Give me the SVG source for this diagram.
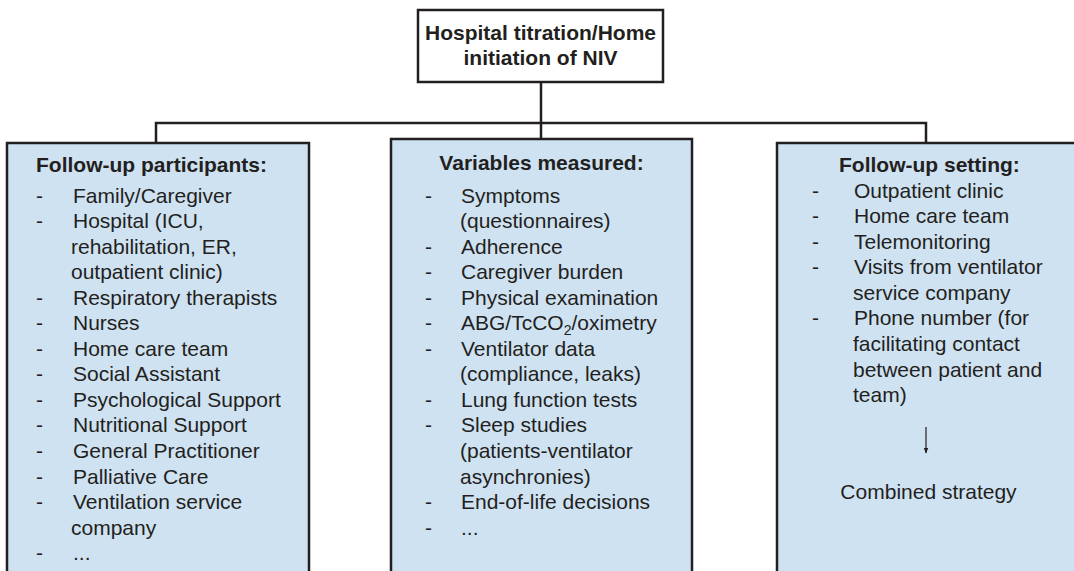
<svg xmlns="http://www.w3.org/2000/svg" width="1074" height="571" viewBox="0 0 1074 571">
<defs>
<style>
.box{fill:#cfe2f2;stroke:#231f20;stroke-width:2.5}
.top{fill:#ffffff;stroke:#231f20;stroke-width:2.5}
.conn{fill:none;stroke:#231f20;stroke-width:2.5}
text{font-family:"Liberation Sans",Arial,sans-serif;font-size:21px;fill:#231f20}
.b{font-weight:bold}
.thin{fill:none;stroke:#231f20;stroke-width:1.2}
</style>
<marker id="ah" viewBox="0 0 10 10" refX="9" refY="5" markerWidth="5" markerHeight="5" orient="auto">
<path d="M0,1 L10,5 L0,9 Z" fill="#231f20"/>
</marker>
</defs>
<rect width="1074" height="571" fill="#ffffff"/>
<g id="connectors">
<path class="conn" d="M541,82 V139"/>
<path class="conn" d="M156,143 V123 H926 V143"/>
</g>
<g id="top-node">
<rect class="top" x="418" y="10" width="245" height="72"/>
<text class="b" x="540.5" y="40" text-anchor="middle">Hospital titration/Home</text>
<text class="b" x="540.5" y="65" text-anchor="middle">initiation of NIV</text>
</g>
<g id="participants">
<rect class="box" x="7" y="143" width="302" height="440"/>
<text class="b" x="36" y="172">Follow-up participants:</text>
<text x="36" y="202.5">-</text><text x="73" y="202.5">Family/Caregiver</text>
<text x="36" y="228">-</text><text x="73" y="228">Hospital (ICU,</text>
<text x="71" y="253.6">rehabilitation, ER,</text>
<text x="71" y="279.1">outpatient clinic)</text>
<text x="36" y="304.7">-</text><text x="73" y="304.7">Respiratory therapists</text>
<text x="36" y="330.2">-</text><text x="73" y="330.2">Nurses</text>
<text x="36" y="355.8">-</text><text x="73" y="355.8">Home care team</text>
<text x="36" y="381.3">-</text><text x="73" y="381.3">Social Assistant</text>
<text x="36" y="406.9">-</text><text x="73" y="406.9">Psychological Support</text>
<text x="36" y="432.4">-</text><text x="73" y="432.4">Nutritional Support</text>
<text x="36" y="458">-</text><text x="73" y="458">General Practitioner</text>
<text x="36" y="483.5">-</text><text x="73" y="483.5">Palliative Care</text>
<text x="36" y="509.1">-</text><text x="73" y="509.1">Ventilation service</text>
<text x="71" y="534.6">company</text>
<text x="36" y="560.2">-</text><text x="73" y="560.2">...</text>
</g>
<g id="variables">
<rect class="box" x="391" y="139" width="301" height="444"/>
<text class="b" x="541.5" y="170" text-anchor="middle">Variables measured:</text>
<text x="425" y="202.5">-</text><text x="461" y="202.5">Symptoms</text>
<text x="460" y="228">(questionnaires)</text>
<text x="425" y="253.6">-</text><text x="461" y="253.6">Adherence</text>
<text x="425" y="279.1">-</text><text x="461" y="279.1">Caregiver burden</text>
<text x="425" y="304.7">-</text><text x="461" y="304.7">Physical examination</text>
<text x="425" y="330.2">-</text><text x="461" y="330.2">ABG/TcCO<tspan font-size="14" dy="5">2</tspan><tspan dy="-5">/oximetry</tspan></text>
<text x="425" y="355.8">-</text><text x="461" y="355.8">Ventilator data</text>
<text x="460" y="381.3">(compliance, leaks)</text>
<text x="425" y="406.9">-</text><text x="461" y="406.9">Lung function tests</text>
<text x="425" y="432.4">-</text><text x="461" y="432.4">Sleep studies</text>
<text x="460" y="458">(patients-ventilator</text>
<text x="460" y="483.5">asynchronies)</text>
<text x="425" y="509.1">-</text><text x="461" y="509.1">End-of-life decisions</text>
<text x="425" y="534.6">-</text><text x="461" y="534.6">...</text>
</g>
<g id="setting">
<rect class="box" x="777" y="143" width="310" height="440"/>
<text class="b" x="839" y="172">Follow-up setting:</text>
<text x="812" y="197.5">-</text><text x="854" y="197.5">Outpatient clinic</text>
<text x="812" y="223">-</text><text x="854" y="223">Home care team</text>
<text x="812" y="248.6">-</text><text x="854" y="248.6">Telemonitoring</text>
<text x="812" y="274.2">-</text><text x="854" y="274.2">Visits from ventilator</text>
<text x="853" y="299.8">service company</text>
<text x="812" y="325.4">-</text><text x="854" y="325.4">Phone number (for</text>
<text x="853" y="351">facilitating contact</text>
<text x="853" y="376.6">between patient and</text>
<text x="853" y="402.2">team)</text>
<path class="thin" d="M926,427 V453" marker-end="url(#ah)"/>
<text x="928.5" y="499" text-anchor="middle">Combined strategy</text>
</g>
</svg>
